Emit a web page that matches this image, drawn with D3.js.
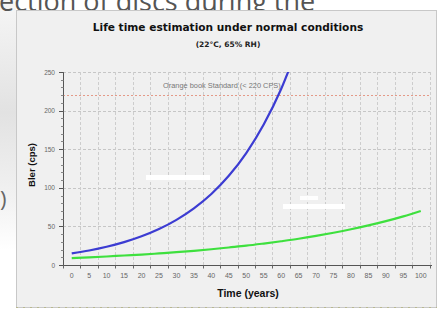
<!DOCTYPE html>
<html><head><meta charset="utf-8">
<script src="https://cdn.jsdelivr.net/npm/d3@7"></script>
<style>html,body{margin:0;padding:0;background:#fff;overflow:hidden}</style>
</head><body>
<svg id="c" width="441" height="311"></svg>
<script>
const years = [0,5,10,15,20,25,30,35,40,45,50,55,60,65,70,75,80,85,90,95,100];
const blueValues = [15,18.8,23.6,29.6,37.2,46.6,58.5,73.4,92,115.5,145,182,228,286];
const greenValues = [9,9.9,11,12.3,13.5,15,16.6,18.4,20.4,22.7,25,27.8,30.8,34,37.7,41.8,46.3,51.3,56.8,63,70];
const yTicks = [0,50,100,150,200,250];
const refValue = 220;
const refLabel = "Orange book Standard (< 220 CPS)";
const title = "Life time estimation under normal conditions";
const subtitle = "(22°C, 65% RH)";
const xTitle = "Time (years)";
const yTitle = "Bler (cps)";
const pageText = "ection of discs during the";

const svg = d3.select("#c");
const defs = svg.append("defs");
const lg = defs.append("linearGradient").attr("id","lg").attr("x1",0).attr("y1",0).attr("x2",0).attr("y2",1);
lg.append("stop").attr("offset","0").attr("stop-color","#f6f6f6");
lg.append("stop").attr("offset","0.45").attr("stop-color","#e2e2e2");
lg.append("stop").attr("offset","0.8").attr("stop-color","#f2f2f2");
lg.append("stop").attr("offset","1").attr("stop-color","#fff");
svg.append("rect").attr("x",0).attr("y",0).attr("width",16).attr("height",250).attr("fill","url(#lg)");
svg.append("text").attr("x",-1).attr("y",11).attr("font-family","Open Sans").attr("font-size",27)
  .attr("fill","#555").text(pageText);
svg.append("text").attr("x",0).attr("y",207).attr("font-family","Open Sans").attr("font-size",22)
  .attr("fill","#666").text(")");

// panel
svg.append("rect").attr("x",16.5).attr("y",10.5).attr("width",420).attr("height",297)
  .attr("fill","#f0f0f0").attr("stroke","#c8c8c8");
// bottom dotted line
svg.append("line").attr("x1",16).attr("x2",437).attr("y1",307.5).attr("y2",307.5)
  .attr("stroke","#b8b890").attr("stroke-dasharray","2,5");

const x = d3.scaleBand().domain(years).range([63,429.5]).padding(0);
const y = d3.scaleLinear().domain([0,250]).range([265,72]);
const cx = d => x(d) + x.bandwidth()/2;

// grid
const g = svg.append("g");
g.selectAll(".hg").data(yTicks.slice(1)).join("line")
  .attr("x1",63).attr("x2",430).attr("y1",d=>Math.round(y(d))+0.5).attr("y2",d=>Math.round(y(d))+0.5)
  .attr("stroke","#c6c6c6").attr("stroke-dasharray","3,2");
const bounds = years.map(d=>x(d)).slice(1).concat([x(100)+x.bandwidth()]);
g.selectAll(".vg").data(bounds).join("line")
  .attr("x1",d=>Math.round(d)+0.5).attr("x2",d=>Math.round(d)+0.5).attr("y1",72).attr("y2",265)
  .attr("stroke","#cdcdcd").attr("stroke-dasharray","3,2");

// reference line
g.append("line").attr("x1",63).attr("x2",430).attr("y1",Math.round(y(refValue))+0.5).attr("y2",Math.round(y(refValue))+0.5)
  .attr("stroke","#e49a88").attr("stroke-dasharray","2,2").attr("stroke-width",1);
g.append("text").attr("x",163).attr("y",y(refValue)-7).attr("font-family","Liberation Sans").attr("font-size",7.4)
  .attr("fill","#777").text(refLabel);

// axes
const ax = svg.append("g").attr("transform","translate(0,265.5)");
ax.append("line").attr("x1",63).attr("x2",432).attr("stroke","#555");
ax.selectAll(".t").data([x(0)].concat(bounds)).join("line")
  .attr("x1",d=>Math.round(d)+0.5).attr("x2",d=>Math.round(d)+0.5).attr("y1",0).attr("y2",3).attr("stroke","#666");
ax.selectAll(".l").data(years).join("text").attr("x",d=>cx(d)).attr("y",12)
  .attr("text-anchor","middle").attr("font-family","Liberation Sans").attr("font-size",7).attr("fill","#666").text(d=>d);

const ay = svg.append("g");
ay.append("line").attr("x1",63.5).attr("x2",63.5).attr("y1",72).attr("y2",266).attr("stroke","#555");
ay.selectAll(".mt").data(d3.range(0,251,10)).join("line")
  .attr("x1",61).attr("x2",63.5).attr("y1",d=>Math.round(y(d))+0.5).attr("y2",d=>Math.round(y(d))+0.5).attr("stroke","#888");
ay.selectAll(".t").data(yTicks).join("line")
  .attr("x1",59).attr("x2",63.5).attr("y1",d=>Math.round(y(d))+0.5).attr("y2",d=>Math.round(y(d))+0.5).attr("stroke","#555");
ay.selectAll(".l").data(yTicks).join("text").attr("x",55).attr("y",d=>y(d)+2.5)
  .attr("text-anchor","end").attr("font-family","Liberation Sans").attr("font-size",6.5).attr("fill","#666").text(d=>d);

// white label blobs
svg.append("rect").attr("x",146).attr("y",175).attr("width",64).attr("height",5).attr("fill","#fff").attr("opacity",0.95);
svg.append("rect").attr("x",283).attr("y",204).attr("width",62).attr("height",5).attr("fill","#fff").attr("opacity",0.95);
svg.append("rect").attr("x",300).attr("y",196).attr("width",18).attr("height",4).attr("fill","#fff").attr("opacity",0.9);

// series
defs.append("clipPath").attr("id","cp").append("rect").attr("x",63).attr("y",72).attr("width",370).attr("height",194);
const line = d3.line().x((d,i)=>cx(years[i])).y(d=>y(d)).curve(d3.curveMonotoneX);
const sg = svg.append("g").attr("clip-path","url(#cp)");
sg.append("path").datum(greenValues).attr("d",line).attr("fill","none").attr("stroke","#3ee03e").attr("stroke-width",2.2);
sg.append("path").datum(blueValues).attr("d",line).attr("fill","none").attr("stroke","#3c3cd2").attr("stroke-width",2.2);

// titles
svg.append("text").attr("x",228).attr("y",31).attr("text-anchor","middle").attr("font-family","DejaVu Sans")
  .attr("font-weight","bold").attr("font-size",10.6).attr("fill","#111").text(title);
svg.append("text").attr("x",228).attr("y",47).attr("text-anchor","middle").attr("font-family","DejaVu Sans")
  .attr("font-weight","bold").attr("font-size",7.5).attr("fill","#222").text(subtitle);
svg.append("text").attr("x",248).attr("y",297).attr("text-anchor","middle").attr("font-family","Liberation Sans")
  .attr("font-weight","bold").attr("font-size",10.5).attr("fill","#111").text(xTitle);
svg.append("text").attr("transform","translate(35,165) rotate(-90)").attr("text-anchor","middle").attr("font-family","Liberation Sans")
  .attr("font-weight","bold").attr("font-size",9.5).attr("fill","#111").text(yTitle);
</script>
</body></html>
